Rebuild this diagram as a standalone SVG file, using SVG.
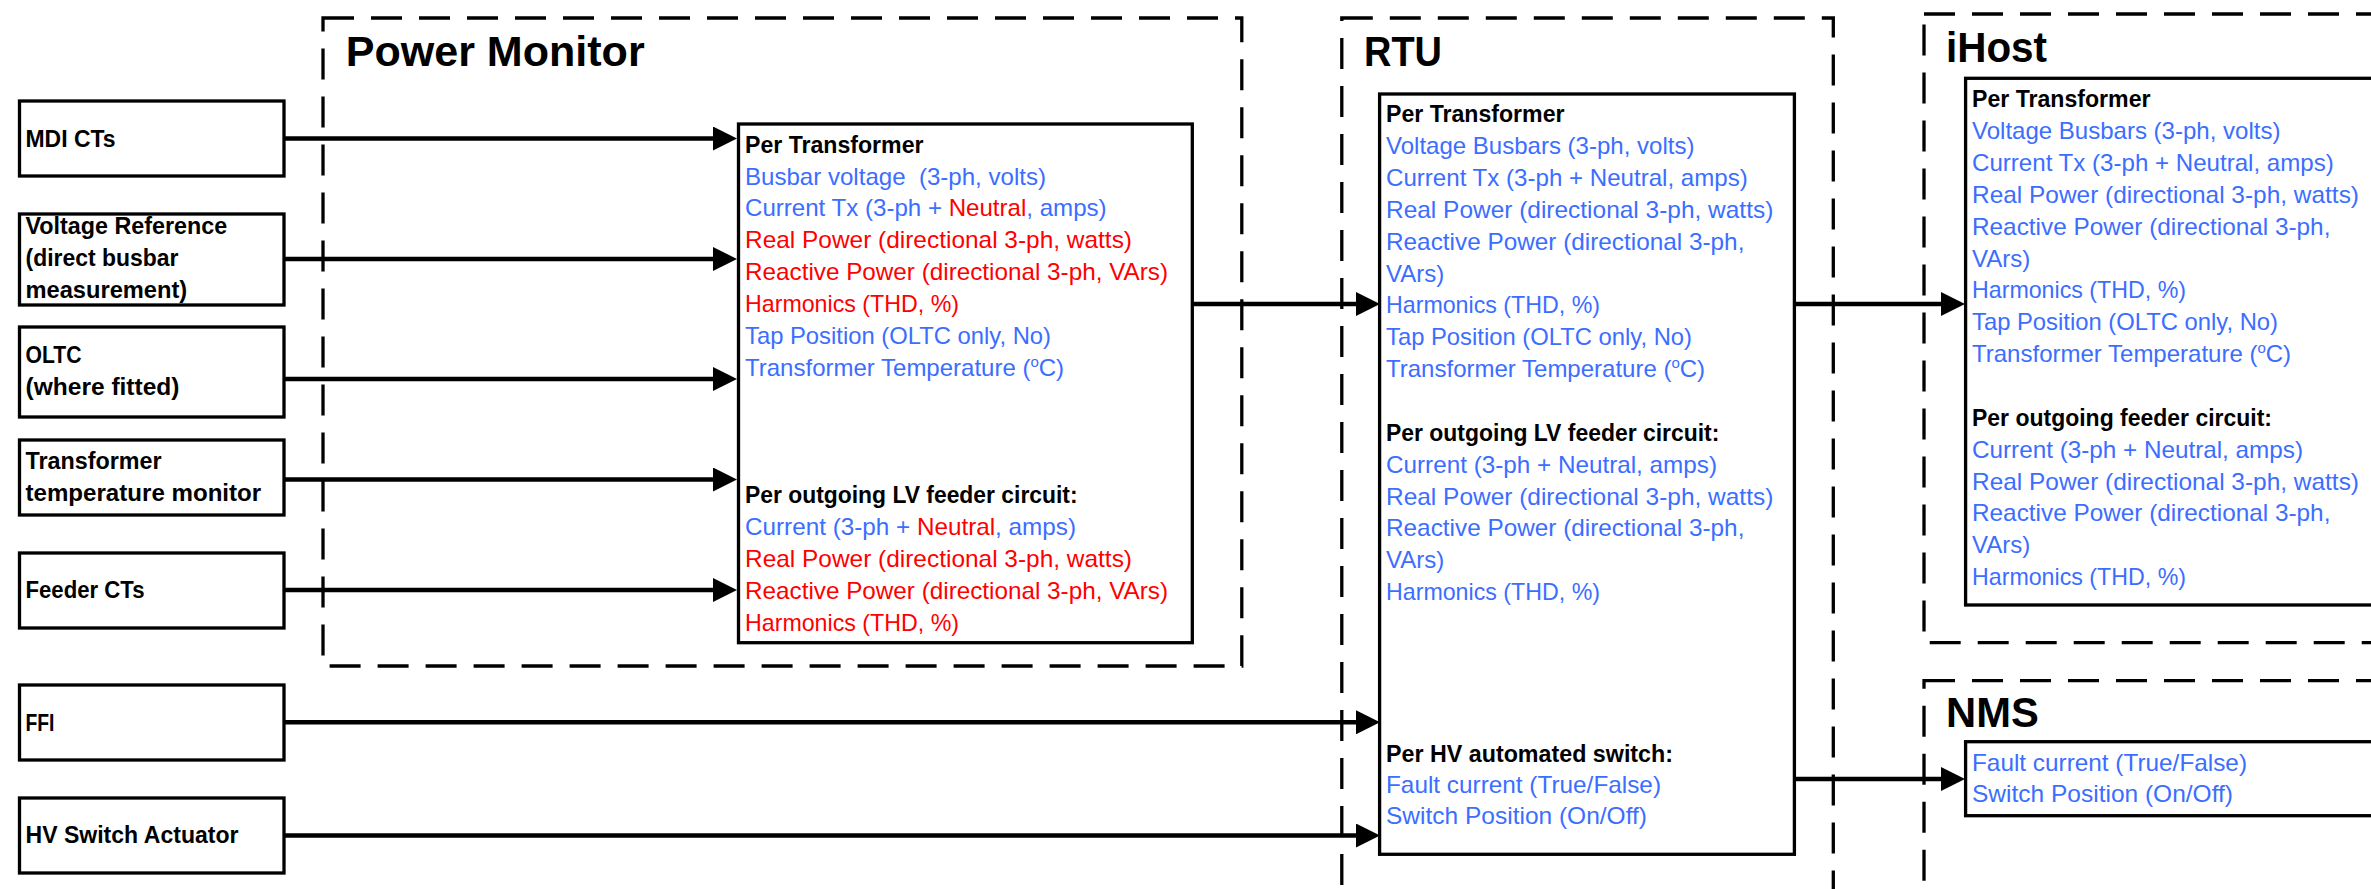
<svg xmlns="http://www.w3.org/2000/svg" width="2371" height="889" viewBox="0 0 2371 889">
<style>
.dash{fill:none;stroke:#000;stroke-width:3.3;stroke-dasharray:31 17}
.box{fill:#fff;stroke:#000;stroke-width:3.3}
.conn{fill:none;stroke:#000;stroke-width:4.6;marker-end:url(#arr)}
text{font-family:"Liberation Sans",Arial,sans-serif}
.lbl{font-weight:bold;font-size:23px;fill:#000}
.hd{font-weight:bold;font-size:23px;fill:#000}
.t{font-size:24px}
.b{fill:#3B6EFF}
.r{fill:#FF0000}
.title{font-weight:bold;font-size:42px;fill:#000}
</style>
<defs>
<marker id="arr" markerUnits="userSpaceOnUse" markerWidth="24" markerHeight="24" viewBox="0 0 24 24" refX="5" refY="12" orient="auto"><path d="M0,0 L24,12 L0,24 z" fill="#000"/></marker>
</defs>

<g id="containers">
<rect id="pm-frame" class="dash" x="323" y="18" width="918.8" height="648"/>
<rect id="rtu-frame" class="dash" x="1341.8" y="18" width="491.5" height="950"/>
<rect id="ihost-frame" class="dash" x="1924" y="14" width="520" height="628.7"/>
<rect id="nms-frame" class="dash" x="1924" y="680.7" width="520" height="300"/>
</g>

<g id="node-mdi"><rect class="box" x="19.5" y="101" width="264.5" height="75"/><text class="lbl" x="25.5" y="146.7" textLength="90" lengthAdjust="spacingAndGlyphs">MDI CTs</text></g>
<g id="node-vref"><rect class="box" x="19.5" y="214" width="264.5" height="91"/>
<text class="lbl" x="25.5" y="234.3" textLength="201.7" lengthAdjust="spacingAndGlyphs">Voltage Reference</text>
<text class="lbl" x="25.5" y="266" textLength="153" lengthAdjust="spacingAndGlyphs">(direct busbar</text>
<text class="lbl" x="25.5" y="297.7" textLength="161.7" lengthAdjust="spacingAndGlyphs">measurement)</text></g>
<g id="node-oltc"><rect class="box" x="19.5" y="327" width="264.5" height="90"/>
<text class="lbl" x="25.5" y="363.3" textLength="56" lengthAdjust="spacingAndGlyphs">OLTC</text>
<text class="lbl" x="25.5" y="395" textLength="154" lengthAdjust="spacingAndGlyphs">(where fitted)</text></g>
<g id="node-ttm"><rect class="box" x="19.5" y="440" width="264.5" height="75"/>
<text class="lbl" x="25.5" y="469.3" textLength="136" lengthAdjust="spacingAndGlyphs">Transformer</text>
<text class="lbl" x="25.5" y="501" textLength="235.7" lengthAdjust="spacingAndGlyphs">temperature monitor</text></g>
<g id="node-feeder"><rect class="box" x="19.5" y="553" width="264.5" height="75"/>
<text class="lbl" x="25.5" y="598.3" textLength="119" lengthAdjust="spacingAndGlyphs">Feeder CTs</text></g>
<g id="node-ffi"><rect class="box" x="19.5" y="685" width="264.5" height="75"/>
<text class="lbl" x="25.5" y="730.7" textLength="29" lengthAdjust="spacingAndGlyphs">FFI</text></g>
<g id="node-hv"><rect class="box" x="19.5" y="798" width="264.5" height="75"/>
<text class="lbl" x="25.5" y="843.3" textLength="213" lengthAdjust="spacingAndGlyphs">HV Switch Actuator</text></g>

<g id="node-pm">
<text class="title" x="345.7" y="65.7" textLength="299" lengthAdjust="spacingAndGlyphs">Power Monitor</text>
<rect class="box" x="738.5" y="124" width="453.8" height="518.7"/>
<text class="hd" x="745" y="152.7" textLength="178.5" lengthAdjust="spacingAndGlyphs">Per Transformer</text>
<text class="t b" x="745" y="184.5" xml:space="preserve" textLength="301" lengthAdjust="spacingAndGlyphs">Busbar voltage  (3-ph, volts)</text>
<text class="t b" x="745" y="216.4" textLength="361.6" lengthAdjust="spacingAndGlyphs">Current Tx (3-ph + <tspan class="r">Neutral</tspan>, amps)</text>
<text class="t r" x="745" y="248.2" textLength="387" lengthAdjust="spacingAndGlyphs">Real Power (directional 3-ph, watts)</text>
<text class="t r" x="745" y="280.1" textLength="423" lengthAdjust="spacingAndGlyphs">Reactive Power (directional 3-ph, VArs)</text>
<text class="t r" x="745" y="311.9" textLength="214" lengthAdjust="spacingAndGlyphs">Harmonics (THD, %)</text>
<text class="t b" x="745" y="343.8" textLength="306" lengthAdjust="spacingAndGlyphs">Tap Position (OLTC only, No)</text>
<text class="t b" x="745" y="375.6">Transformer Temperature (<tspan font-size="15" dy="-9">o</tspan><tspan dy="9">C)</tspan></text>
<text class="hd" x="745" y="503.1" textLength="332.6" lengthAdjust="spacingAndGlyphs">Per outgoing LV feeder circuit:</text>
<text class="t b" x="745" y="534.9" textLength="331" lengthAdjust="spacingAndGlyphs">Current (3-ph + <tspan class="r">Neutral</tspan>, amps)</text>
<text class="t r" x="745" y="566.8" textLength="387" lengthAdjust="spacingAndGlyphs">Real Power (directional 3-ph, watts)</text>
<text class="t r" x="745" y="598.6" textLength="423" lengthAdjust="spacingAndGlyphs">Reactive Power (directional 3-ph, VArs)</text>
<text class="t r" x="745" y="630.5" textLength="214" lengthAdjust="spacingAndGlyphs">Harmonics (THD, %)</text>
</g>

<g id="node-rtu">
<text class="title" x="1364" y="65.7" textLength="78" lengthAdjust="spacingAndGlyphs">RTU</text>
<rect class="box" x="1379.6" y="94" width="414.8" height="760.3"/>
<text class="hd" x="1386" y="122.3" textLength="178.5" lengthAdjust="spacingAndGlyphs">Per Transformer</text>
<text class="t b" x="1386" y="154.1" textLength="308.4" lengthAdjust="spacingAndGlyphs">Voltage Busbars (3-ph, volts)</text>
<text class="t b" x="1386" y="186" textLength="361.8" lengthAdjust="spacingAndGlyphs">Current Tx (3-ph + Neutral, amps)</text>
<text class="t b" x="1386" y="217.8" textLength="387.3" lengthAdjust="spacingAndGlyphs">Real Power (directional 3-ph, watts)</text>
<text class="t b" x="1386" y="249.7" textLength="358.4" lengthAdjust="spacingAndGlyphs">Reactive Power (directional 3-ph,</text>
<text class="t b" x="1386" y="281.5">VArs)</text>
<text class="t b" x="1386" y="313.4" textLength="214" lengthAdjust="spacingAndGlyphs">Harmonics (THD, %)</text>
<text class="t b" x="1386" y="345.2" textLength="306" lengthAdjust="spacingAndGlyphs">Tap Position (OLTC only, No)</text>
<text class="t b" x="1386" y="377.1">Transformer Temperature (<tspan font-size="15" dy="-9">o</tspan><tspan dy="9">C)</tspan></text>
<text class="hd" x="1386" y="440.8" textLength="333.4" lengthAdjust="spacingAndGlyphs">Per outgoing LV feeder circuit:</text>
<text class="t b" x="1386" y="472.6" textLength="331" lengthAdjust="spacingAndGlyphs">Current (3-ph + Neutral, amps)</text>
<text class="t b" x="1386" y="504.5" textLength="387.3" lengthAdjust="spacingAndGlyphs">Real Power (directional 3-ph, watts)</text>
<text class="t b" x="1386" y="536.3" textLength="358.4" lengthAdjust="spacingAndGlyphs">Reactive Power (directional 3-ph,</text>
<text class="t b" x="1386" y="568.2">VArs)</text>
<text class="t b" x="1386" y="600" textLength="214" lengthAdjust="spacingAndGlyphs">Harmonics (THD, %)</text>
<text class="hd" x="1386" y="761.7" textLength="287" lengthAdjust="spacingAndGlyphs">Per HV automated switch:</text>
<text class="t b" x="1386" y="792.8" textLength="275" lengthAdjust="spacingAndGlyphs">Fault current (True/False)</text>
<text class="t b" x="1386" y="824" textLength="261" lengthAdjust="spacingAndGlyphs">Switch Position (On/Off)</text>
</g>

<g id="node-ihost">
<text class="title" x="1946" y="62.3" textLength="101" lengthAdjust="spacingAndGlyphs">iHost</text>
<rect class="box" x="1965.6" y="78.3" width="460" height="526.7"/>
<text class="hd" x="1972" y="107.3" textLength="178.5" lengthAdjust="spacingAndGlyphs">Per Transformer</text>
<text class="t b" x="1972" y="139.1" textLength="308.4" lengthAdjust="spacingAndGlyphs">Voltage Busbars (3-ph, volts)</text>
<text class="t b" x="1972" y="171" textLength="361.8" lengthAdjust="spacingAndGlyphs">Current Tx (3-ph + Neutral, amps)</text>
<text class="t b" x="1972" y="202.8" textLength="387" lengthAdjust="spacingAndGlyphs">Real Power (directional 3-ph, watts)</text>
<text class="t b" x="1972" y="234.7" textLength="358.4" lengthAdjust="spacingAndGlyphs">Reactive Power (directional 3-ph,</text>
<text class="t b" x="1972" y="266.5">VArs)</text>
<text class="t b" x="1972" y="298.4" textLength="214" lengthAdjust="spacingAndGlyphs">Harmonics (THD, %)</text>
<text class="t b" x="1972" y="330.2" textLength="306" lengthAdjust="spacingAndGlyphs">Tap Position (OLTC only, No)</text>
<text class="t b" x="1972" y="362.1">Transformer Temperature (<tspan font-size="15" dy="-9">o</tspan><tspan dy="9">C)</tspan></text>
<text class="hd" x="1972" y="425.8" textLength="300" lengthAdjust="spacingAndGlyphs">Per outgoing feeder circuit:</text>
<text class="t b" x="1972" y="457.6" textLength="331" lengthAdjust="spacingAndGlyphs">Current (3-ph + Neutral, amps)</text>
<text class="t b" x="1972" y="489.5" textLength="387" lengthAdjust="spacingAndGlyphs">Real Power (directional 3-ph, watts)</text>
<text class="t b" x="1972" y="521.3" textLength="358.4" lengthAdjust="spacingAndGlyphs">Reactive Power (directional 3-ph,</text>
<text class="t b" x="1972" y="553.2">VArs)</text>
<text class="t b" x="1972" y="585" textLength="214" lengthAdjust="spacingAndGlyphs">Harmonics (THD, %)</text>
</g>

<g id="node-nms">
<text class="title" x="1946" y="727.3" textLength="92.8" lengthAdjust="spacingAndGlyphs">NMS</text>
<rect class="box" x="1965.6" y="741.7" width="460" height="74"/>
<text class="t b" x="1972" y="770.7" textLength="275" lengthAdjust="spacingAndGlyphs">Fault current (True/False)</text>
<text class="t b" x="1972" y="802.3" textLength="261" lengthAdjust="spacingAndGlyphs">Switch Position (On/Off)</text>
</g>

<g id="connectors">
<path class="conn" d="M284,138.5 H718"/>
<path class="conn" d="M284,259 H718"/>
<path class="conn" d="M284,379 H718"/>
<path class="conn" d="M284,479.5 H718"/>
<path class="conn" d="M284,590 H718"/>
<path class="conn" d="M284,722.3 H1361"/>
<path class="conn" d="M284,835.5 H1361"/>
<path class="conn" d="M1192,304 H1361"/>
<path class="conn" d="M1794,304 H1946"/>
<path class="conn" d="M1794,779 H1946"/>
</g>
</svg>
